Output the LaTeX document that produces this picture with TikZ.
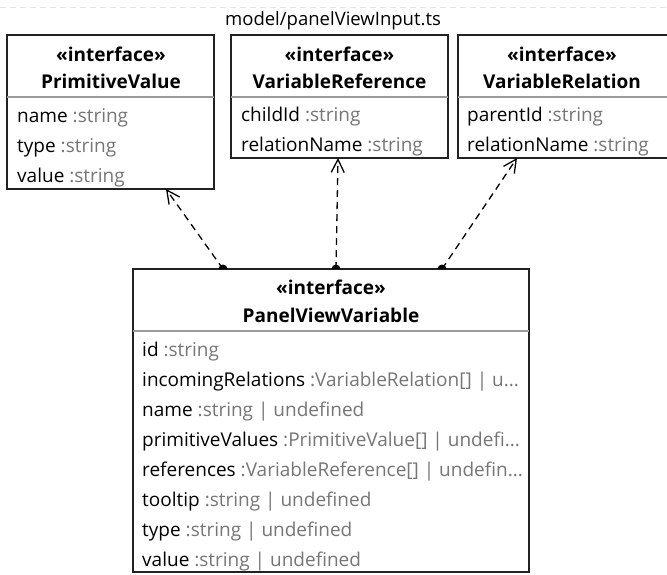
\documentclass[tikz,border=0pt]{standalone}
\usepackage{fontspec}
\setmainfont{Open Sans}
\usetikzlibrary{arrows.meta,calc}
\definecolor{typegray}{HTML}{767676}
\definecolor{rulegray}{HTML}{9A9A9A}
\definecolor{framegray}{HTML}{E4E4E4}
\definecolor{boxline}{HTML}{222222}
\tikzset{
  x=1pt, y=-1pt,
  umlbox/.style={draw=boxline, line width=1.6pt, fill=white, anchor=north west,
    inner sep=0pt, outer sep=0pt},
  headtxt/.style={font=\fontsize{19}{22}\selectfont\bfseries, anchor=base, inner sep=0pt},
  attrtxt/.style={font=\fontsize{19}{22}\selectfont, anchor=base west, inner sep=0pt},
  divider/.style={draw=rulegray, line width=1.2pt},
  dep/.style={draw=black, line width=1.3pt, dash pattern=on 7pt off 5pt,
    -{Straight Barb[length=13pt,width=13pt,line width=1.3pt]}},
  anchordot/.style={fill=black},
}
\newcommand{\attr}[2]{#1 \textcolor{typegray}{:#2}}
\begin{document}
\begin{tikzpicture}
\useasboundingbox (0,0) rectangle (667,574);
\clip (0,0) rectangle (667,574);

% package frame edge and title
\draw[framegray, line width=1pt, dash pattern=on 6pt off 4pt] (0,7) -- (667,7);
\node[font=\fontsize{18.5}{22}\selectfont, anchor=base, inner sep=0pt] (title) at (333,25) {model/panelViewInput.ts};

% interface boxes
\node[umlbox, minimum width=207pt, minimum height=154pt] (pv) at (7,35) {};
\node[umlbox, minimum width=217pt, minimum height=123pt] (vref) at (231,35) {};
\node[umlbox, minimum width=220pt, minimum height=123pt] (vrel) at (458,35) {};
\node[umlbox, minimum width=396pt, minimum height=303pt] (pvv) at (133,269) {};

% compartment dividers
\draw[divider] (7,97) -- (214,97);
\draw[divider] (231,97) -- (448,97);
\draw[divider] (458,97) -- (678,97);
\draw[divider] (133,331) -- (529,331);

% PrimitiveValue
\node[headtxt] (pvst) at (111,61) {«interface»};
\node[headtxt] (pvnm) at (111,88) {PrimitiveValue};
\node[attrtxt] (pva1) at (17,122) {\attr{name}{string}};
\node[attrtxt] (pva2) at (17,152) {\attr{type}{string}};
\node[attrtxt] (pva3) at (17,182) {\attr{value}{string}};

% VariableReference
\node[headtxt] (vrst) at (339.5,61) {«interface»};
\node[headtxt] (vrnm) at (339.5,88) {VariableReference};
\node[attrtxt] (vra1) at (241,121) {\attr{childId}{string}};
\node[attrtxt] (vra2) at (241,151) {\attr{relationName}{string}};

% VariableRelation
\node[headtxt] (vlst) at (562,61) {«interface»};
\node[headtxt] (vlnm) at (562,88) {VariableRelation};
\node[attrtxt] (vla1) at (467,121) {\attr{parentId}{string}};
\node[attrtxt] (vla2) at (467,151) {\attr{relationName}{string}};

% PanelViewVariable
\node[headtxt] (pvvst) at (331,294) {«interface»};
\node[headtxt] (pvvnm) at (331,322) {PanelViewVariable};
\node[attrtxt] (pvv1) at (142,356) {\attr{id}{string}};
\node[attrtxt] (pvv2) at (142,386) {\attr{incomingRelations}{VariableRelation[] | u...}};
\node[attrtxt] (pvv3) at (142,416) {\attr{name}{string | undefined}};
\node[attrtxt] (pvv4) at (142,446) {\attr{primitiveValues}{PrimitiveValue[] | undefi...}};
\node[attrtxt] (pvv5) at (142,476) {\attr{references}{VariableReference[] | undefin...}};
\node[attrtxt] (pvv6) at (142,506) {\attr{tooltip}{string | undefined}};
\node[attrtxt] (pvv7) at (142,536) {\attr{type}{string | undefined}};
\node[attrtxt] (pvv8) at (142,566) {\attr{value}{string | undefined}};

% dependency end points
\coordinate (s1) at ($(pvv.north west)+(90,0)$);
\coordinate (s2) at ($(pvv.north west)+(203,0)$);
\coordinate (s3) at ($(pvv.north west)+(309,0)$);
\coordinate (t1) at ($(pv.south west)+(159,0)$);
\coordinate (t2) at ($(vref.south west)+(107,0)$);
\coordinate (t3) at ($(vrel.south west)+(59,0)$);

% dependencies
\draw[dep] (s1) -- (t1);
\draw[dep] (s2) -- (t2);
\draw[dep] (s3) -- (t3);
\foreach \s in {s1,s2,s3}
  \fill[anchordot] ($(\s)+(-4.5,0)$) arc[start angle=180, end angle=0, radius=4.5pt] -- cycle;
\end{tikzpicture}
\end{document}
